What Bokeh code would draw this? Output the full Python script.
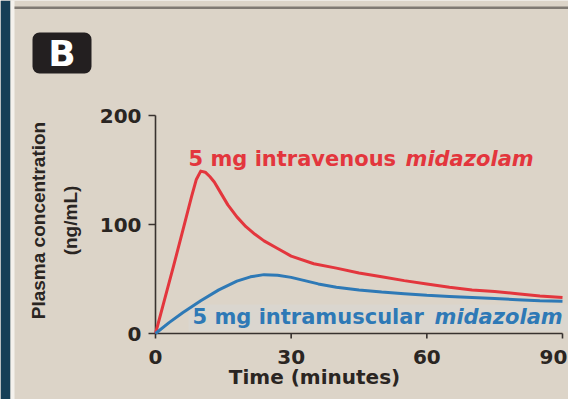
import math
from bokeh.plotting import figure
from bokeh.models import Range1d, BoxAnnotation
from bokeh.core.properties import value
from bokeh.embed import file_html
from bokeh.resources import INLINE

# ---------------- data ----------------
time_iv = [0, 2, 4, 6, 8, 9, 10, 11, 12, 13, 14, 16, 18, 20, 22, 24, 27, 30, 35, 40,
           45, 50, 55, 60, 65, 70, 75, 80, 85, 90]
conc_iv = [0, 31, 62, 94, 126, 141, 149, 148, 144, 139, 132, 118, 107, 98, 91, 85, 78, 71, 64, 60,
           55.5, 52, 48.5, 45.5, 42.5, 40, 38.5, 36.5, 34.5, 33]

time_im = [0, 3, 6, 10, 14, 18, 21, 24, 27, 30, 33, 36, 40, 45, 50, 55, 60, 65, 70, 75, 80, 85, 90]
conc_im = [0, 10, 19, 30, 40, 48, 52, 54, 53.5, 51.5, 48.5, 45.5, 42.5, 40, 38, 36.5, 35, 34, 33,
           32, 31, 30, 29.5]

x_ticks = [0, 30, 60, 90]
y_ticks = [0, 100, 200]
x_tick_labels = ["0", "30", "60", "90"]
y_tick_labels = ["0", "100", "200"]

panel_label = "B"
x_title = "Time (minutes)"
y_title_1 = "Plasma concentration"
y_title_2 = "(ng/mL)"
iv_label = "5 mg intravenous "
im_label = "5 mg intramuscular "
drug = "midazolam"

# ---------------- styling / layout ----------------
BG = "#dcd4c8"
RED = "#e3363d"
BLUE = "#2e79b6"
AXIS = "#38322f"
INK = "#2a2522"
W, H = 568, 399
X0PX, SX = 155, 407 / 90.0   # px of x=0, px per minute
Y0PX, SY = 333, 1.09         # px of y=0, px per ng/mL


def dx(px):
    return (px - X0PX) / SX


def dy(py):
    return (Y0PX - py) / SY


p = figure(width=W, height=H, output_backend="svg", toolbar_location=None,
           x_range=Range1d(dx(0), dx(W)), y_range=Range1d(dy(H), dy(0)),
           min_border=0, x_axis_type=None, y_axis_type=None,
           background_fill_color=BG, border_fill_color=BG, outline_line_color=None)
p.grid.visible = False

# decorative panel edges
p.add_layout(BoxAnnotation(left=dx(0), right=dx(10), bottom=dy(H), top=dy(0),
                           fill_color="#163f57", fill_alpha=1, line_color=None, level="underlay"))
p.add_layout(BoxAnnotation(left=dx(10), right=dx(14), bottom=dy(H), top=dy(0),
                           fill_color="#f4f1ec", fill_alpha=1, line_color=None, level="underlay"))
p.add_layout(BoxAnnotation(left=dx(14), right=dx(W), bottom=dy(8.5), top=dy(6),
                           fill_color="#807a73", fill_alpha=1, line_color=None, level="underlay"))

# panel label box
p.add_layout(BoxAnnotation(left=dx(32), right=dx(91), bottom=dy(73), top=dy(32),
                           fill_color="#231f20", fill_alpha=1, line_color=None,
                           border_radius=7, level="underlay"))
p.text(x=[dx(61.5)], y=[dy(53)], text=[panel_label], text_font=value("DejaVu Sans"),
       text_font_style="bold", text_font_size="36px", text_color="white",
       text_align="center", text_baseline="middle")

# faint band behind blue label
p.add_layout(BoxAnnotation(left=dx(188), right=dx(W), bottom=dy(331), top=dy(304),
                           fill_color="#d6dad8", fill_alpha=0.45, line_color=None, level="underlay"))

# axes
p.segment(x0=[x_ticks[0]], y0=[0], x1=[x_ticks[-1]], y1=[0], line_color=AXIS, line_width=1.6)
p.segment(x0=[0], y0=[y_ticks[0]], x1=[0], y1=[y_ticks[-1]], line_color=AXIS, line_width=1.6)
p.segment(x0=x_ticks, y0=[0] * len(x_ticks), x1=x_ticks, y1=[-5 / SY] * len(x_ticks),
          line_color=AXIS, line_width=1.6)
p.segment(x0=[0] * len(y_ticks), y0=y_ticks, x1=[-7 / SX] * len(y_ticks), y1=y_ticks,
          line_color=AXIS, line_width=1.6)

p.text(x=x_ticks, y=[dy(356)] * len(x_ticks), text=x_tick_labels, text_font=value("DejaVu Sans"),
       text_font_style="bold", text_font_size="20px", text_color=INK,
       x_offset=[0, 0, 0, -9],
       text_align="center", text_baseline="middle")
p.text(x=[dx(141)] * len(y_ticks), y=y_ticks, text=y_tick_labels, text_font=value("DejaVu Sans"),
       text_font_style="bold", text_font_size="20px", text_color=INK,
       text_align="right", text_baseline="middle")

p.text(x=[dx(314)], y=[dy(376)], text=[x_title], text_font=value("DejaVu Sans"),
       text_font_style="bold", text_font_size="20px", text_color=INK,
       text_align="center", text_baseline="middle")

p.text(x=[dx(38)], y=[dy(220)], text=[y_title_1],
       text_font=value("Liberation Sans"),
       text_font_style="bold", text_font_size="19px", text_color=INK, angle=math.pi / 2,
       text_align="center", text_baseline="middle")
p.text(x=[dx(70)], y=[dy(220)], text=[y_title_2],
       text_font=value("Liberation Sans"),
       text_font_style="bold", text_font_size="19px", text_color=INK, angle=math.pi / 2,
       text_align="center", text_baseline="middle")

# curves
p.line(time_iv, conc_iv, line_color=RED, line_width=3, line_join="round")
p.line(time_im, conc_im, line_color=BLUE, line_width=3, line_join="round")

# curve labels
p.text(x=[dx(188)], y=[dy(158)], text=[iv_label], text_font=value("DejaVu Sans"),
       text_font_style="bold", text_font_size="21px", text_color=RED,
       text_align="left", text_baseline="middle")
p.text(x=[dx(405)], y=[dy(158)], text=[drug], text_font=value("DejaVu Sans"),
       text_font_style="bold italic", text_font_size="21px", text_color=RED,
       text_align="left", text_baseline="middle")
p.text(x=[dx(192)], y=[dy(316)], text=[im_label], text_font=value("DejaVu Sans"),
       text_font_style="bold", text_font_size="21px", text_color=BLUE,
       text_align="left", text_baseline="middle")
p.text(x=[dx(434)], y=[dy(316)], text=[drug], text_font=value("DejaVu Sans"),
       text_font_style="bold italic", text_font_size="21px", text_color=BLUE,
       text_align="left", text_baseline="middle")

open("out.html", "w").write(file_html(p, INLINE, title="Midazolam plasma concentration"))
